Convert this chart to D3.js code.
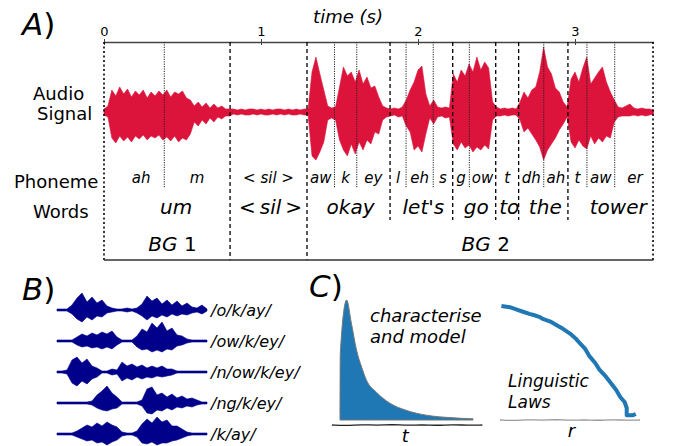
<!DOCTYPE html>
<html><head><meta charset="utf-8">
<script src="https://cdn.jsdelivr.net/npm/d3@7"></script>
<style>
html,body{margin:0;padding:0;background:#fff;}
svg{display:block;font-family:"DejaVu Sans",sans-serif;}
</style></head>
<body>
<svg id="fig" width="675" height="446"></svg>
<script>
// ---------------- DATA ----------------
const timeTicks = [0, 1, 2, 3];
const audioStep = 0.025; // seconds between envelope samples
const audioUp = [3,6,
  22,16,25,18,23,15,21,17,22,14,20,16,21,17,22,15,20,18,21,14,
  12,6,10,5,9,4,8,4,6,3,3,
  3,2,3,2,3,3,2,3,2,3,2,3,3,2,3,2,3,2,3,
  3,40,55,38,22,6,4,5,25,45,36,40,30,42,28,35,24,26,15,
  6,4,3,4,3,5,
  12,22,30,42,46,18,6,12,5,4,5,4,
  38,30,42,36,48,40,55,42,50,44,
  10,5,3,4,3,4,3,
  10,20,14,22,25,40,65,45,38,24,20,10,5,
  33,40,30,44,55,28,34,40,45,30,20,12,5,
  4,6,8,4,3,4,3,3,2];
const audioLo = [3,5,
  26,31,24,29,25,30,24,27,23,28,24,26,23,28,25,29,24,30,26,28,
  22,10,14,8,12,6,10,5,7,4,4,
  2,3,2,3,3,2,3,2,3,3,2,3,2,3,2,3,3,2,3,
  3,44,48,40,30,8,6,8,28,38,44,32,42,30,38,28,32,20,22,
  8,5,4,3,5,4,
  14,20,38,34,40,22,6,12,5,4,6,5,
  32,38,30,36,33,40,35,38,33,37,
  8,4,4,3,4,3,3,
  8,20,16,22,28,35,48,38,32,26,18,12,5,
  30,36,28,34,37,24,32,26,30,24,26,10,5,
  4,4,4,3,4,3,4,3,2];

const phonemes   = ["ah","m","< sil >","aw","k","ey","l","eh","s","g","ow","t","dh","ah","t","aw","er"];
const phonStart  = [0.09,0.384,0.803,1.293,1.468,1.610,1.822,1.924,2.097,2.221,2.327,2.495,2.641,2.801,2.955,3.076,3.253];
const phonEnd    = [0.384,0.803,1.293,1.468,1.610,1.822,1.924,2.097,2.221,2.327,2.495,2.641,2.801,2.955,3.076,3.253,3.51];
const words      = ["um","<\u2009sil\u2009>","okay","let's","go","to","the","tower"];
const wordStart  = [0.09,0.803,1.293,1.822,2.221,2.495,2.641,2.955];
const wordEnd    = [0.803,1.293,1.822,2.221,2.495,2.641,2.955,3.57];
const groups     = ["1","2"];
const groupStart = [0.07,1.293];
const groupEnd   = [0.803,3.57];

const edgeLines  = [0, 3.497];
const groupLines = [0.803, 1.293];
const wordLines  = [1.822, 2.221, 2.495, 2.641, 2.955];
const phonLines  = [0.384, 1.468, 1.610, 1.924, 2.097, 2.327, 2.801, 3.076, 3.253];

// Panel B: amplitude envelopes (up / down) of five pronunciations
const bLabels = ["/o/k/ay/","/ow/k/ey/","/n/ow/k/ey/","/ng/k/ey/","/k/ay/"];
const bUp = [
  [1,1,1,5,12,17,8,13,7,10,4,2,1,1,2,1,2,6,14,9,12,6,10,5,9,4,7,3,2,5,1],
  [1,1,1,1,4,7,5,8,6,9,7,10,4,1,1,1,5,12,9,18,13,19,10,13,6,5,2,1,1,1,1],
  [1,1,2,12,15,9,13,6,4,1,1,3,2,10,6,8,5,7,4,6,4,6,3,3,1,1,1,1,1,1,1],
  [1,1,1,1,1,1,1,2,8,12,17,10,6,1,1,1,1,3,14,16,8,10,6,9,5,7,4,5,3,1,1],
  [1,1,1,1,3,6,9,7,11,8,12,9,7,2,1,1,3,10,15,11,17,12,14,8,8,5,2,1,1,1,1]
];
const bDown = [
  [1,1,1,4,9,12,7,10,6,7,3,2,1,1,2,1,3,6,10,6,8,5,7,4,6,4,5,3,2,4,1],
  [1,1,1,1,4,6,5,7,6,8,6,8,4,1,1,1,6,9,8,11,9,11,8,9,5,4,2,1,1,1,1],
  [1,1,2,11,14,9,12,7,5,1,1,3,2,9,6,8,5,7,5,6,4,5,4,3,1,1,1,1,1,1,1],
  [1,1,1,1,1,1,1,2,5,7,8,6,5,1,1,1,1,3,10,11,7,8,5,7,4,5,3,4,2,1,1],
  [1,1,1,1,3,5,7,6,9,8,11,8,6,2,1,1,3,9,10,8,11,9,9,7,6,4,2,1,1,1,1]
];

// Panel C: duration distribution and rank curve
const distT = [0,0.02,0.5,0.85,1.25,1.63,2.0,2.75,3.75,5.0,6.5,8.25,10];
const distP = [0,0.55,1.0,0.81,0.58,0.44,0.33,0.23,0.14,0.08,0.04,0.02,0.01];
const rankR = [0.01,0.07,0.12,0.17,0.21,0.24,0.28,0.31,0.36,0.405,0.45,0.50,0.54,0.57,0.61,0.64,0.68,0.71,0.75,0.79,0.83,0.86,0.89,0.905,0.905,0.95,0.97];
const rankF = [0.95,0.94,0.92,0.90,0.885,0.875,0.86,0.84,0.82,0.79,0.76,0.72,0.68,0.64,0.59,0.53,0.475,0.42,0.37,0.31,0.25,0.19,0.15,0.10,0.04,0.04,0.05];

// ---------------- DRAW ----------------
const svg = d3.select("#fig");
const FONT = "DejaVu Sans";
const red = "#dc143c", navy = "#00008b", blue = "#1f77b4";

// ===== Panel A =====
const x = d3.scaleLinear().domain([0, 3.5]).range([104, 653.5]);
const yA = d3.scaleLinear().domain([-65, 65]).range([177, 47]);

const audio = audioUp.map((u, i) => ({t: i * audioStep, u: u, d: audioLo[i]}));
svg.append("path").datum(audio)
  .attr("d", d3.area().x(d => x(d.t)).y0(d => yA(-d.d)).y1(d => yA(d.u)))
  .attr("fill", red).attr("stroke", red).attr("stroke-width", 0.6);

const axTop = svg.append("g").attr("transform", "translate(0,42)")
  .call(d3.axisTop(x).tickValues(timeTicks).tickSizeInner(3).tickSizeOuter(0).tickPadding(3).tickFormat(d3.format("d")));
axTop.select(".domain").attr("stroke", "#444").attr("stroke-width", 1.5);
axTop.selectAll(".tick line").attr("stroke", "#444").attr("y1", 3).attr("stroke-width", 1);
axTop.selectAll(".tick text").attr("font-family", FONT).attr("font-size", 13).attr("fill", "#000");
svg.append("text").attr("x", 348).attr("y", 23).attr("text-anchor", "middle")
  .attr("font-size", 18).attr("font-style", "italic").text("time (s)");

const vl = (arr, y2, dash, w, col) => svg.append("g").selectAll("line").data(arr).join("line")
  .attr("x1", d => x(d)).attr("x2", d => x(d)).attr("y1", 42).attr("y2", y2)
  .attr("stroke", col).attr("stroke-width", w).attr("stroke-dasharray", dash);
vl(phonLines, 188, "1.2,1.2", 1, "#222");
vl(wordLines, 220, "4,3", 1.3, "#000");
vl(groupLines, 260, "4,3", 1.3, "#000");
vl(edgeLines, 260, "2,2.5", 1.6, "#000");

svg.append("line").attr("x1", x(0)).attr("x2", x(3.5)).attr("y1", 260).attr("y2", 260)
  .attr("stroke", "#333").attr("stroke-width", 1.5);

svg.append("g").selectAll("text").data(phonemes).join("text")
  .attr("x", (d, i) => x((phonStart[i] + phonEnd[i]) / 2)).attr("y", 183)
  .attr("text-anchor", "middle").attr("font-size", 15).attr("font-style", "italic").text(d => d);
svg.append("g").selectAll("text").data(words).join("text")
  .attr("x", (d, i) => x((wordStart[i] + wordEnd[i]) / 2) + 2).attr("y", 214)
  .attr("text-anchor", "middle").attr("font-size", 20).attr("font-style", "italic").text(d => d);
const bg = svg.append("g").selectAll("text").data(groups).join("text")
  .attr("x", (d, i) => x((groupStart[i] + groupEnd[i]) / 2)).attr("y", 251)
  .attr("text-anchor", "middle").attr("font-size", 20);
bg.append("tspan").attr("font-style", "italic").text("BG");
bg.append("tspan").text(d => " " + d);

const rowLab = (t, xx, yy) => svg.append("text").attr("x", xx).attr("y", yy).attr("font-size", 18).text(t);
rowLab("Audio", 33, 100);
rowLab("Signal", 37, 120);
rowLab("Phoneme", 14, 188);
rowLab("Words", 33, 218);

const panelLab = (letter, xx, yy) => {
  const t = svg.append("text").attr("x", xx).attr("y", yy).attr("font-size", 31);
  t.append("tspan").attr("font-style", "italic").text(letter);
  t.append("tspan").text(")");
};
panelLab("A", 22, 35);
panelLab("B", 22, 300);
panelLab("C", 309, 297);

// ===== Panel B =====
const xB = d3.scaleLinear().domain([0, 30]).range([57, 207]);
const yB = d3.scalePoint().domain(bLabels).range([310, 434]);
const aB = d3.scaleLinear().domain([-20, 20]).range([20, -20]);
bLabels.forEach((lab, r) => {
  const cy = yB(lab);
  const pts = bUp[r].map((u, j) => ({j: j, u: u, d: bDown[r][j]}));
  svg.append("path").datum(pts)
    .attr("d", d3.area().x(d => xB(d.j)).y0(d => cy + aB(-d.d)).y1(d => cy + aB(d.u)))
    .attr("fill", navy).attr("stroke", navy).attr("stroke-width", 0.6);
  svg.append("text").attr("x", 211).attr("y", cy + 6).attr("font-size", 16)
    .attr("font-style", "italic").text(lab);
});

// ===== Panel C =====
const xL = d3.scaleLinear().domain([0, 10]).range([340, 473]);
const yL = d3.scaleLinear().domain([0, 1]).range([420, 300]);
const dist = distT.map((t, i) => ({t: t, p: distP[i]}));
svg.append("path").datum(dist)
  .attr("d", d3.area().x(d => xL(d.t)).y0(yL(0)).y1(d => yL(d.p)).curve(d3.curveMonotoneX))
  .attr("fill", blue).attr("stroke", "#777").attr("stroke-width", 1);

const wob = [0, 0.6, -0.5, 0.4, -0.6, 0.5, -0.3, 0.6, -0.5, 0.3, 0];
const wavy = (x0, x1, yy, col) => {
  const pts = wob.map((w, i) => [x0 + (x1 - x0) * i / (wob.length - 1), yy + w]);
  svg.append("path").attr("d", d3.line().curve(d3.curveBasis)(pts))
    .attr("fill", "none").attr("stroke", col).attr("stroke-width", 1.3);
};
wavy(xL(-0.6), xL(10.7), yL(0) + 5, "#222");

const xR = d3.scaleLinear().domain([0, 1]).range([500, 640]);
const yR = d3.scaleLinear().domain([0, 1]).range([420, 300]);
wavy(xR(0), xR(1), yR(0), "#999");
svg.append("path").datum(rankR.map((r, i) => [r, rankF[i]]))
  .attr("d", d3.line().x(d => xR(d[0])).y(d => yR(d[1])))
  .attr("fill", "none").attr("stroke", blue).attr("stroke-width", 4).attr("stroke-linejoin", "round");

const it = (t, xx, yy, fs) => svg.append("text").attr("x", xx).attr("y", yy)
  .attr("font-size", fs).attr("font-style", "italic").text(t);
it("characterise", 370, 322, 18);
it("and model", 370, 343, 18);
it("Linguistic", 508, 387, 17);
it("Laws", 508, 408, 17);
svg.append("text").attr("x", xL(4.9)).attr("y", 442).attr("text-anchor", "middle")
  .attr("font-size", 18).attr("font-style", "italic").text("t");
svg.append("text").attr("x", xR(0.51)).attr("y", 437).attr("text-anchor", "middle")
  .attr("font-size", 18).attr("font-style", "italic").text("r");
</script>
</body></html>
